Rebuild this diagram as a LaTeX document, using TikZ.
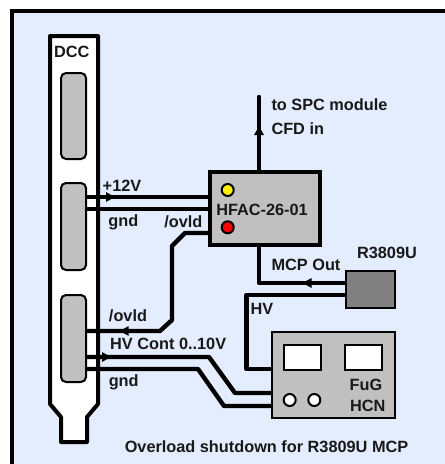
\documentclass[tikz,border=0pt]{standalone}
\usepackage{fontspec}
\setmainfont{Liberation Sans}
\usetikzlibrary{arrows.meta,decorations.markings}
\definecolor{panelblue}{HTML}{E3EDFD}
\definecolor{boxgray}{HTML}{C0C0C0}
\definecolor{pmtgray}{HTML}{808080}
\tikzset{
    lbl/.style={font=\bfseries\fontsize{16.3}{18}\selectfont, inner sep=0pt, text=black!90},
    slot/.style={draw, line width=2pt, fill=boxgray, rounded corners=5pt, inner sep=0pt, outer sep=0pt},
    instr/.style={draw, fill=boxgray, inner sep=0pt, outer sep=0pt},
    led/.style={circle, draw, line width=2pt, minimum size=12pt, inner sep=0pt, outer sep=0pt},
    wire/.style={line width=4.4pt, line join=round},
    tipat/.style={postaction={decorate, decoration={markings,
        mark=at position #1 with {\arrow{Latex[length=11pt,width=10.5pt]}}}}}
}
\begin{document}
\begin{tikzpicture}[x=1pt,y=-1pt]
    \useasboundingbox (0,0) rectangle (445,464);
    % Panel
    \fill[panelblue] (12,11) rectangle (445,464);
    \draw[line width=4.4pt] (12,464) -- (12,11) -- (445,11);
    % DCC card
    \draw[line width=4pt, fill=white, line join=round] (50,36) -- (98,36) -- (98,404) -- (87,417)
        -- (87,442) -- (61,442) -- (61,417) -- (50,404) -- cycle;
    \node[slot, minimum width=25pt, minimum height=86pt] (slota) at (73.5,116) {};
    \node[slot, minimum width=25pt, minimum height=87pt] (slotb) at (73.5,226.5) {};
    \node[slot, minimum width=25pt, minimum height=87pt] (slotc) at (73.5,338.5) {};
    % Modules
    \node[instr, line width=4.4pt, minimum width=110pt, minimum height=73pt] (hfac) at (265,208.5) {};
    \node[instr, line width=2pt, fill=pmtgray, minimum width=49pt, minimum height=37pt] (pmt) at (370,289) {};
    \node[instr, line width=2pt, minimum width=123pt, minimum height=86pt] (fug) at (333,375) {};
    % HFAC LEDs
    \node[led, fill=yellow] (ledy) at (227.7,190) {};
    \node[led, fill=red] (ledr) at (227.7,227.3) {};
    % FuG front panel
    \node[draw, line width=2pt, fill=white, minimum width=37pt, minimum height=25pt, inner sep=0pt] (dispa) at (302,357) {};
    \node[draw, line width=2pt, fill=white, minimum width=37pt, minimum height=25pt, inner sep=0pt] (dispb) at (363.5,357) {};
    \node[led, fill=white] (knoba) at (289.7,400) {};
    \node[led, fill=white] (knobb) at (314.3,400) {};
    % Wires
    \draw[wire, tipat=31pt] (slotb.east |- 0,197) -- (hfac.west |- 0,197);
    \draw[wire] (slotb.east |- 0,209) -- (hfac.west |- 0,209);
    \draw[wire, tipat=176pt] (hfac.west |- 0,233) -- (185,233) -- (172,246) -- (172,320) -- (160,331)
        -- (slotc.east |- 0,331);
    \draw[wire, tipat=27pt] (slotc.east |- 0,357) -- (209,357) -- (235,393) -- (fug.west |- 0,393);
    \draw[wire] (slotc.east |- 0,369) -- (198,369) -- (224,406) -- (fug.west |- 0,406);
    \draw[wire, tipat=45pt] (pmt.west |- 0,283) -- (259,283) -- (259,245);
    \draw[wire] (pmt.west |- 0,295) -- (246.5,295) -- (246.5,369) -- (fug.west |- 0,369);
    \coordinate (spc) at (259,97);
    \draw[wire, line cap=round, tipat=48pt] (259,172) -- (spc);
    % Labels
    \node[lbl] (dcclbl) at (71.7,51.7) {DCC};
    \node[lbl] (pluslbl) at (122,185.7) {+12V};
    \node[lbl] (gndlbla) at (123.3,222) {gnd};
    \node[lbl] (ovldlbla) at (183.3,222) {/ovld};
    \node[lbl] (ovldlblb) at (128,315.3) {/ovld};
    \node[lbl, anchor=west] (contlbl) at (110,344.3) {HV Cont 0..10V};
    \node[lbl] (gndlblb) at (123.7,382.7) {gnd};
    \node[lbl] (hfaclbl) at (262,209.7) {HFAC-26-01};
    \node[lbl, anchor=west] (spclbl) at (271.3,104.7) {to SPC module};
    \node[lbl, anchor=west] (cfdlbl) at (271.3,129) {CFD in};
    \node[lbl] (pmtlbl) at (387,252.7) {R3809U};
    \node[lbl] (mcplbl) at (306,265) {MCP Out};
    \node[lbl] (hvlbl) at (262,309) {HV};
    \node[lbl] (fuglbl) at (366,384.7) {FuG};
    \node[lbl] (hcnlbl) at (367.7,406) {HCN};
    \node[lbl] (titlelbl) at (266.5,447) {Overload shutdown for R3809U MCP};
\end{tikzpicture}
\end{document}
